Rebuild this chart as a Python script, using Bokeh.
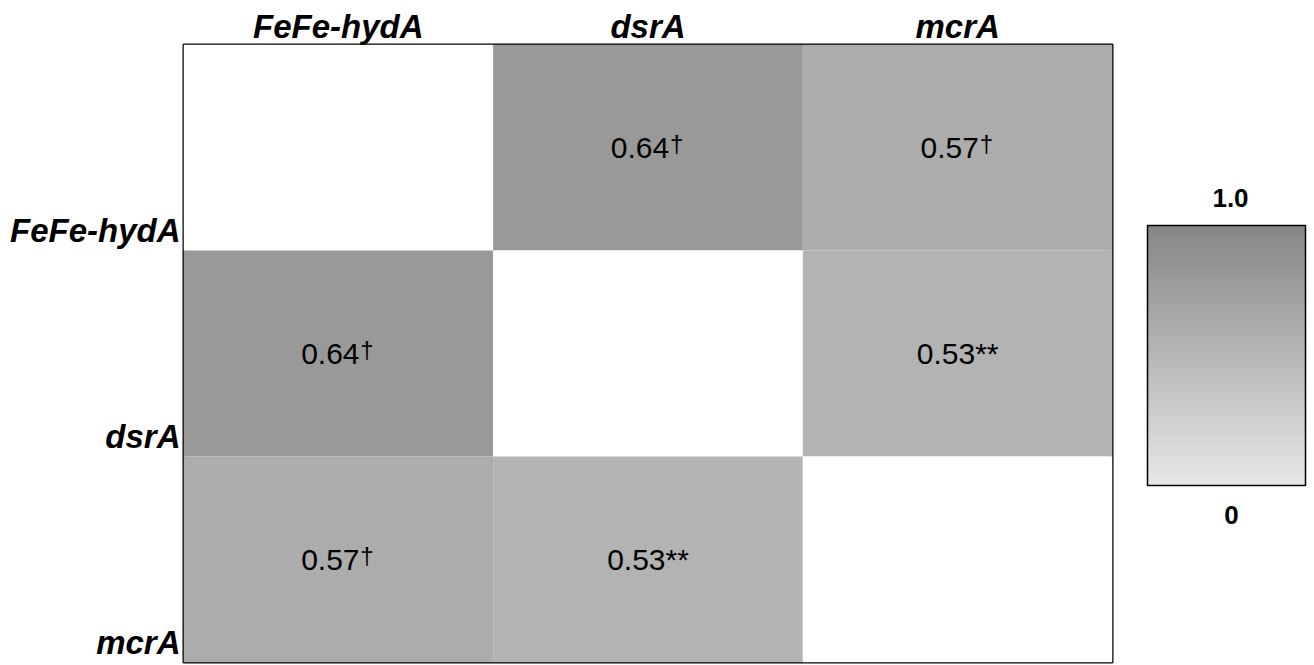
from bokeh.plotting import figure
from bokeh.layouts import row
from bokeh.models import FixedTicker, ColorBar, LinearColorMapper
from bokeh.core.properties import value
from bokeh.embed import file_html
from bokeh.resources import INLINE

# ---- data ----
genes = ["FeFe-hydA", "dsrA", "mcrA"]
r_values = [
    [None, 0.64, 0.57],
    [0.64, None, 0.53],
    [0.57, 0.53, None],
]
sig_marks = [
    ["", "\u2020", "\u2020"],
    ["\u2020", "", "**"],
    ["\u2020", "**", ""],
]
scale_labels = ["1.0", "0"]

# ---- styles ----
shade = {0.64: "#999999", 0.57: "#acacac", 0.53: "#b3b3b3"}
FONT = "Liberation Sans"

xs, ys, colors = [], [], []
num_x, num_y, num_t = [], [], []
sup_x, sup_y, sup_t = [], [], []
star_x, star_y, star_t = [], [], []
for i, rv in enumerate(r_values):
    for j, v in enumerate(rv):
        xs.append(j + 0.5)
        ys.append(i + 0.5)
        colors.append("white" if v is None else shade[v])
        if v is None:
            continue
        mark = sig_marks[i][j]
        if mark == "\u2020":
            num_x.append(j + 0.5); num_y.append(i + 0.5); num_t.append(f"{v:.2f}")
            sup_x.append(j + 0.5); sup_y.append(i + 0.5); sup_t.append(mark)
        else:
            star_x.append(j + 0.5); star_y.append(i + 0.5); star_t.append(f"{v:.2f}{mark}")

n = len(genes)
p = figure(width=1114, height=664, x_range=(0, n), y_range=(n, 0),
           output_backend="svg", toolbar_location=None, x_axis_location="above",
           min_border_left=183, min_border_right=2, min_border_top=44, min_border_bottom=2)

p.rect(x=xs, y=ys, width=1, height=1, fill_color=colors, line_color=None)

common = dict(text_font=value(FONT), text_color="black", text_baseline="middle")
p.text(x=num_x, y=num_y, text=num_t, text_align="center",
       x_offset=-8, y_offset=0, text_font_size="30px", **common)
p.text(x=sup_x, y=sup_y, text=sup_t, text_align="left",
       x_offset=22, y_offset=-4, text_font_size="24px", **common)
p.text(x=star_x, y=star_y, text=star_t, text_align="center",
       y_offset=0, text_font_size="30px", **common)

xt = [j + 0.5 for j in range(n)]
p.xaxis.ticker = FixedTicker(ticks=xt)
p.xaxis.major_label_overrides = {t: g for t, g in zip(xt, genes)}
yt = [round(i + 0.905, 3) for i in range(n)]
p.yaxis.ticker = FixedTicker(ticks=yt)
p.yaxis.major_label_overrides = {t: g for t, g in zip(yt, genes)}

for ax in (p.xaxis, p.yaxis):
    ax.axis_line_color = None
    ax.major_tick_line_color = None
    ax.minor_tick_line_color = None
    ax.major_label_text_font = FONT
    ax.major_label_text_font_style = "bold italic"
    ax.major_label_text_font_size = "33px"
    ax.major_label_text_color = "black"
p.xaxis.major_label_standoff = -6
p.yaxis.major_label_standoff = -3

p.grid.visible = False
p.outline_line_color = "black"
p.outline_line_width = 2
p.background_fill_color = "white"
p.border_fill_color = "white"

# ---- colour scale panel (its frame is aligned with the heatmap frame: y 44..662) ----
W2, H2 = 196, 664
p2 = figure(width=W2, height=H2, x_range=(1114, 1114 + W2), y_range=(662, 44),
            output_backend="svg", toolbar_location=None,
            min_border_left=0, min_border_right=0, min_border_top=44, min_border_bottom=2)
p2.axis.visible = False
p2.grid.visible = False
p2.outline_line_color = None
p2.background_fill_color = "white"
p2.border_fill_color = "white"

grays = []
for k in range(256):
    g = int(round(232 - (232 - 134) * k / 255))
    grays.append("#%02x%02x%02x" % (g, g, g))
mapper = LinearColorMapper(palette=grays, low=0, high=1)
cb = ColorBar(color_mapper=mapper, location=(33, 177), width=158, height=260,
              padding=0, margin=0, ticker=FixedTicker(ticks=[]),
              major_tick_line_color=None, minor_tick_line_color=None,
              bar_line_color="black", bar_line_width=1.5,
              background_fill_alpha=0, border_line_color=None)
p2.add_layout(cb, "center")

p2.text(x=[1230, 1231], y=[197, 514], text=scale_labels, text_align="center",
        text_baseline="middle", text_font=value(FONT), text_font_style="bold",
        text_font_size="26px", text_color="black")

open("out.html", "w").write(file_html(row(p, p2), INLINE))
